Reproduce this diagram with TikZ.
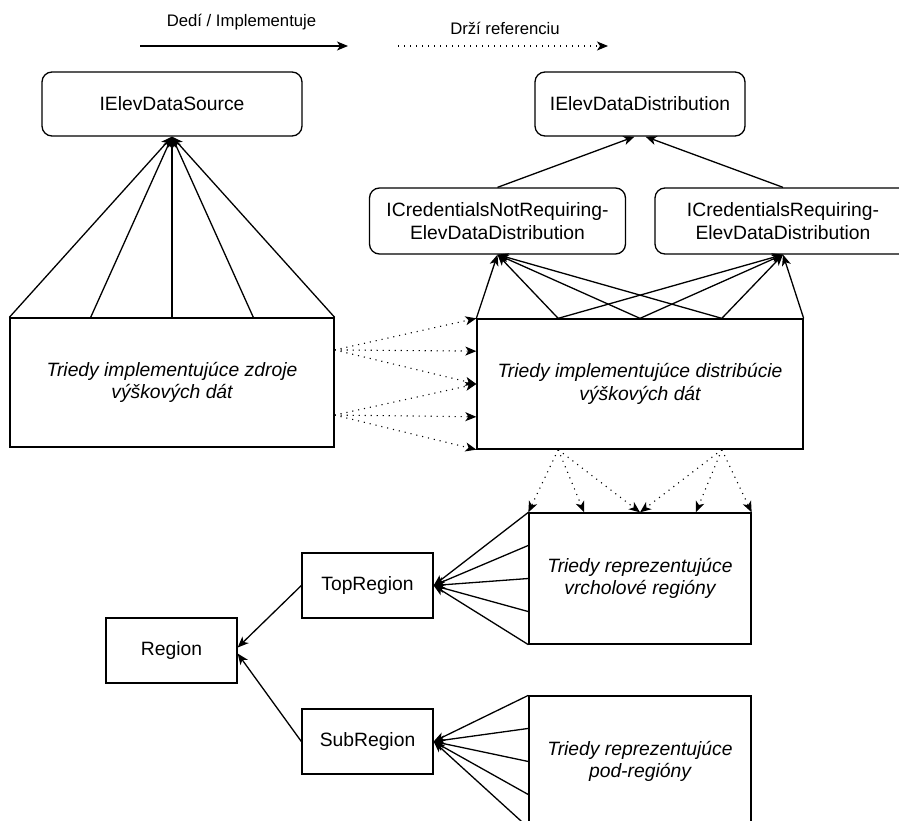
\documentclass[tikz,border=0pt]{standalone}
\usepackage{fontspec}
\setmainfont{Liberation Sans}
\usetikzlibrary{arrows.meta,calc}
\begin{document}
\begin{tikzpicture}[x=1pt,y=-1pt,
  box/.style={draw, line width=1.3pt, inner sep=0pt, align=center,
    font=\fontsize{19.3pt}{22.5pt}\selectfont},
  rbox/.style={box, rounded corners=10pt},
  ibox/.style={box, font=\fontsize{19.3pt}{22.5pt}\selectfont\itshape},
  legtext/.style={inner sep=0pt, font=\fontsize{16.7pt}{20pt}\selectfont},
  inh/.style={draw, line width=1.3pt, -{Stealth[length=11pt,width=9pt,inset=3pt]}},
  refl/.style={inh, line width=1.1pt, dash pattern=on 1.1pt off 4.9pt}]
\useasboundingbox (0,0) rectangle (899,821);
\clip (0,0) rectangle (899,821);

% legend
\node[legtext] (l1) at (241.5,22) {Dedí / Implementuje};
\node[legtext] (l2) at (505,28) {Drží referenciu};
\coordinate (a1) at (140,46);
\coordinate (a2) at (348,46);
\coordinate (b1) at (398,46);
\coordinate (b2) at (608,46);
\draw[inh] (a1) -- (a2);
\draw[refl] (b1) -- (b2);

% nodes
\node[rbox, minimum width=260pt, minimum height=64pt] (src) at (172,104) {IElevDataSource};
\node[rbox, minimum width=210pt, minimum height=64pt] (dist) at (640,104) {IElevDataDistribution};
\node[rbox, minimum width=256pt, minimum height=66pt] (cnr) at (497.5,221) {ICredentialsNotRequiring-\\ElevDataDistribution};
\node[rbox, minimum width=256pt, minimum height=66pt] (cr) at (783,221) {ICredentialsRequiring-\\ElevDataDistribution};
\node[ibox, minimum width=324pt, minimum height=129pt] (srcimpl) at (172,382.5) {Triedy implementujúce zdroje\\výškových dát};
\node[ibox, minimum width=326pt, minimum height=130pt] (distimpl) at (640,384) {Triedy implementujúce distribúcie\\výškových dát};
\node[ibox, minimum width=222pt, minimum height=131pt] (topimpl) at (640,578.5) {Triedy reprezentujúce\\vrcholové regióny};
\node[ibox, minimum width=222pt, minimum height=131pt] (subimpl) at (640,761.5) {Triedy reprezentujúce\\pod-regióny};
\node[box, minimum width=131pt, minimum height=65pt] (toprg) at (367.5,585.5) {TopRegion};
\node[box, minimum width=131pt, minimum height=65pt] (rg) at (171.5,650.5) {Region};
\node[box, minimum width=131pt, minimum height=65pt] (subrg) at (367.5,741.5) {SubRegion};

% IElevDataSource fan
\foreach \f in {0,0.25,0.5,0.75,1}
  \draw[inh] ($(srcimpl.north west)!\f!(srcimpl.north east)$) -- (src.south);

% distribution hierarchy
\draw[inh] (cnr.north) -- ($(dist.south)+(-5.5,0)$);
\draw[inh] (cr.north) -- ($(dist.south)+(5.5,0)$);
\foreach \f in {0,0.25,0.5,0.75}
  \draw[inh] ($(distimpl.north west)!\f!(distimpl.north east)$) -- (cnr.south);
\foreach \f in {0.25,0.5,0.75,1}
  \draw[inh] ($(distimpl.north west)!\f!(distimpl.north east)$) -- (cr.south);

% references source -> distribution
\foreach \f in {0,0.25,0.5}
  \draw[refl] ($(srcimpl.north east)!0.25!(srcimpl.south east)$) -- ($(distimpl.north west)!\f!(distimpl.south west)$);
\foreach \f in {0.5,0.75,1}
  \draw[refl] ($(srcimpl.north east)!0.75!(srcimpl.south east)$) -- ($(distimpl.north west)!\f!(distimpl.south west)$);

% references distribution -> top regions
\foreach \f in {0,0.25,0.5}
  \draw[refl] ($(distimpl.south west)!0.25!(distimpl.south east)$) -- ($(topimpl.north west)!\f!(topimpl.north east)$);
\foreach \f in {0.5,0.75,1}
  \draw[refl] ($(distimpl.south west)!0.75!(distimpl.south east)$) -- ($(topimpl.north west)!\f!(topimpl.north east)$);

% regions
\foreach \f in {0,0.25,0.5,0.75,1}
  \draw[inh] ($(topimpl.north west)!\f!(topimpl.south west)$) -- (toprg.east);
\foreach \f in {0,0.25,0.5,0.75,1}
  \draw[inh] ($(subimpl.north west)!\f!(subimpl.south west)$) -- (subrg.east);
\draw[inh] (toprg.west) -- ($(rg.east)+(0,-3)$);
\draw[inh] (subrg.west) -- ($(rg.east)+(0,3)$);
\end{tikzpicture}
\end{document}
